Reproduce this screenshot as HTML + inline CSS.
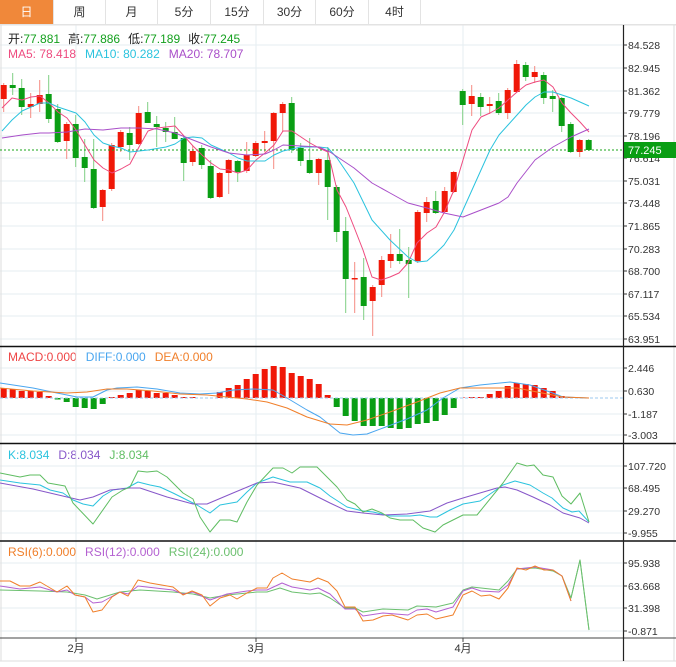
<!DOCTYPE html>
<html><head><meta charset="utf-8"><style>
html,body{margin:0;padding:0;background:#fff;width:676px;height:667px;overflow:hidden;font-family:"Liberation Sans","Noto Sans CJK SC",sans-serif}
.tabs{position:absolute;left:0;top:0;height:24px;width:676px;border-bottom:1px solid #e3e3e3}
.tab{position:absolute;top:0;height:24px;line-height:24px;text-align:center;font-size:12px;color:#333;border-right:1px solid #e3e3e3;box-sizing:border-box}
.on{background:#f0883a;color:#fff}
svg{position:absolute;left:0;top:0}
</style></head><body>
<div class="tabs">
<div class="tab on" style="left:0;width:54px">日</div>
<div class="tab" style="left:54px;width:52px">周</div>
<div class="tab" style="left:106px;width:52px">月</div>
<div class="tab" style="left:158px;width:53px">5分</div>
<div class="tab" style="left:211px;width:53px">15分</div>
<div class="tab" style="left:264px;width:52px">30分</div>
<div class="tab" style="left:316px;width:53px">60分</div>
<div class="tab" style="left:369px;width:52px">4时</div>
</div>
<svg id="s" width="676" height="667" xmlns="http://www.w3.org/2000/svg" font-family="Liberation Sans, Noto Sans CJK SC, sans-serif">
<g font-size="12">
<text x="8" y="43"><tspan fill="#222">开:</tspan><tspan fill="#14a01e">77.881</tspan><tspan fill="#222" dx="8">高:</tspan><tspan fill="#14a01e">77.886</tspan><tspan fill="#222" dx="8">低:</tspan><tspan fill="#14a01e">77.189</tspan><tspan fill="#222" dx="8">收:</tspan><tspan fill="#14a01e">77.245</tspan></text>
<text x="8" y="58"><tspan fill="#ee4b7f">MA5: 78.418</tspan><tspan fill="#2bc3de" dx="9">MA10: 80.282</tspan><tspan fill="#a94fc9" dx="9">MA20: 78.707</tspan></text>
<text x="8" y="361"><tspan fill="#ee4545">MACD:0.000</tspan><tspan fill="#4aa6ef" dx="9">DIFF:0.000</tspan><tspan fill="#f07f2a" dx="9">DEA:0.000</tspan></text>
<text x="8" y="459"><tspan fill="#2bc3de">K:8.034</tspan><tspan fill="#8757c9" dx="9">D:8.034</tspan><tspan fill="#5fbd62" dx="9">J:8.034</tspan></text>
<text x="8" y="556"><tspan fill="#f07f2a">RSI(6):0.000</tspan><tspan fill="#b461d1" dx="9">RSI(12):0.000</tspan><tspan fill="#6cc06f" dx="9">RSI(24):0.000</tspan></text>
</g>
<g id="g"></g>
</svg>
<script>
var g=document.getElementById('g'),NS='http://www.w3.org/2000/svg';
function el(t,a,txt){var e=document.createElementNS(NS,t);for(var k in a)e.setAttribute(k,a[k]);if(txt!=null)e.textContent=txt;g.appendChild(e);return e;}
function line(x1,y1,x2,y2,c,w,d){var a={x1:x1,y1:y1,x2:x2,y2:y2,stroke:c,'stroke-width':w||1};if(d)a['stroke-dasharray']=d;el('line',a);}
function pl(pts,c,w){el('polyline',{points:pts.map(function(p){return p.join(',')}).join(' '),fill:'none',stroke:c,'stroke-width':w||1,'stroke-linejoin':'round'});}
var GC='#e6edf2';
// grids main
var mt=[[45,'84.528'],[68,'82.945'],[91,'81.362'],[113,'79.779'],[136,'78.196'],[158,'76.614'],[181,'75.031'],[203,'73.448'],[226,'71.865'],[249,'70.283'],[271,'68.700'],[294,'67.117'],[316,'65.534'],[339,'63.951']];
mt.forEach(function(t){line(0,t[0],623,t[0],GC);});
var md=[[368,'2.446'],[391,'0.630'],[414,'-1.187'],[435,'-3.003']];
md.forEach(function(t){line(0,t[0],623,t[0],GC);});
var kd=[[466,'107.720'],[488,'68.495'],[511,'29.270'],[533,'-9.955']];
kd.forEach(function(t){line(0,t[0],623,t[0],GC);});
var rs=[[563,'95.938'],[586,'63.668'],[608,'31.398'],[631,'-0.871']];
rs.forEach(function(t){line(0,t[0],623,t[0],GC);});
[76,256,463].forEach(function(x){line(x,25,x,638,GC);});
// borders
line(0,25,676,25,'#e3e3e3');line(1,25,1,661,'#ddd');line(674,25,674,661,'#ddd');line(0,661,676,661,'#ddd');
line(0,346.5,676,346.5,'#111',1.5);line(0,443.5,676,443.5,'#111',1.5);line(0,541,676,541,'#111',1.5);line(0,638,676,638,'#444',1);
line(623.5,25,623.5,661,'#222',1.2);
function ticks(arr){arr.forEach(function(t){line(623,t[0],627,t[0],'#333');el('text',{x:628,y:t[0]+4,'font-size':'10.5',fill:'#333'},t[1]);});}
ticks(mt);ticks(md);ticks(kd);ticks(rs);
[[76,'2月'],[256,'3月'],[463,'4月']].forEach(function(m){line(m[0],638,m[0],642,'#444');el('text',{x:m[0],y:652,'font-size':'11','text-anchor':'middle',fill:'#333'},m[1]);});
// candles [wt,bt,bb,wb,up]
var C=[[83,85,99,112,1],[73,85,88,95,0],[79,88,107,115,0],[93,104,107,118,1],[80,95,104,112,1],[75,94,119,123,0],[104,109,142,143,0],[122,124,141,159,1],[115,124,158,167,0],[139,157,168,182,0],[139,169,208,209,0],[189,190,207,221,1],[143,145,189,191,1],[130,132,147,152,1],[127,133,145,160,0],[106,113,144,145,1],[102,112,123,123,0],[116,124,127,147,0],[122,128,132,142,0],[117,132,139,139,0],[136,138,163,181,0],[146,151,162,166,1],[145,148,165,169,0],[160,166,198,199,0],[172,173,197,198,1],[159,160,173,194,1],[160,161,172,182,0],[142,155,171,173,1],[141,143,156,157,1],[131,141,143,152,1],[112,113,141,169,1],[102,104,113,132,1],[97,103,150,153,0],[143,148,161,166,0],[138,160,173,174,0],[158,159,173,185,1],[147,160,187,220,0],[185,187,232,242,0],[217,231,279,313,0],[262,278,279.5,313,1],[258,277,306,320,0],[285,287,301,336,1],[256,260,285,297,1],[234,254,261,268,1],[229,254,261,264,0],[247,260,264,298,0],[210,212,261,263,1],[197,202,213,222,1],[191,201,213,214,0],[187,191,212,213,1],[171,172,192,193,1],[89,91,105,125,0],[85,96,104,116,1],[93,97,107,116,0],[97,104,106,114,1],[93,101,113,115,0],[88,90,113,119,1],[60,64,92,93,1],[62,65,77,81,0],[66,72,77,83,1],[72,75,98,104,0],[90,96,99,112,0],[97,98,126,132,0],[122,124,152,153,0],[139,140,152,157,1],[139,140,150,151,0]];
C.forEach(function(c,i){var x=3.7+9*i,col=c[4]?'#f01808':'#0a9e14',wc=c[4]?'#f58a82':'#7fcf84';
line(x,c[0],x,c[3],wc,1);el('rect',{x:x-3,y:c[1],width:6,height:Math.max(1,c[2]-c[1]),fill:col});});
// current price
line(0,150,623,150,'#1aa51a',1,'2,2');
el('rect',{x:624,y:142,width:52,height:16,fill:'#0a9e14'});
el('text',{x:628,y:154,'font-size':'11',fill:'#fff'},'77.245');
// MAs
pl([[2,108],[12,98],[22,100],[31,97],[40,96],[49,103],[58,112],[67,118],[76,130],[85,145],[94,160],[103,168],[112,173],[121,169],[130,164],[139,147],[148,131],[157,128],[166,127],[175,126],[184,136],[193,146],[202,155],[211,163],[220,169],[229,170],[238,173],[247,170],[256,160],[265,153],[274,145],[283,131],[292,131],[301,137],[310,143],[319,148],[328,152],[337,190],[346,207],[354,227],[363,250],[372,277],[381,280],[390,277],[399,273],[408,263],[417,243],[427,233],[436,227],[444,213],[454,190],[463,160],[472,130],[481,117],[490,113],[499,108],[508,100],[517,92],[526,85],[535,82],[544,80],[553,87],[562,103],[571,113],[580,122],[589,132]],'#ee4b7f');
pl([[2,131],[12,120],[22,111],[40,103],[49,103],[58,107],[76,113],[85,122],[94,135],[103,143],[112,146],[121,148],[130,152],[139,151],[148,150],[166,147],[175,144],[184,138],[193,137],[202,138],[211,145],[229,153],[238,158],[247,161],[265,161],[274,155],[283,151],[292,149],[301,147],[319,147],[328,148],[337,158],[354,183],[372,220],[390,240],[408,257],[417,262],[427,261],[436,253],[444,245],[454,230],[463,210],[472,190],[481,170],[490,150],[499,135],[508,125],[517,115],[526,105],[535,97],[544,92],[553,92],[562,95],[571,98],[589,106]],'#2bc3de');
pl([[2,138],[22,135],[40,133],[49,133],[67,132],[85,129],[103,130],[121,128],[139,128],[157,129],[175,133],[193,140],[211,147],[229,153],[247,155],[265,154],[274,150],[283,145],[301,146],[319,147],[330,152],[354,168],[372,183],[390,193],[408,203],[427,208],[444,213],[463,217],[481,210],[499,203],[508,197],[517,183],[535,160],[553,147],[571,137],[589,129]],'#a94fc9');
// MACD bars
var M=[388,389,391,391,392,396,399.5,402,407,408,409,404,397,395,393,390,391,393,393,395,397,397,398,398,392,388,385,379,374,369,366,367,373,376,379,384,395,407,416,421,426,426,426,428,429,428,424,423,421,415,408,397.5,397,397,394,391,386,383,384,385,388,391,396,397,398,398];
M.forEach(function(v,i){var x=3.7+9*i;if(v<398)el('rect',{x:x-3,y:v,width:6,height:398-v,fill:'#f01808'});else if(v>398)el('rect',{x:x-3,y:398,width:6,height:v-398,fill:'#0a9e14'});});
line(0,398,623,398,'#9cc9ef',1,'3,2');
pl([[0,383],[33,388],[57,393],[77,397],[93,397],[107,390],[117,388],[137,387],[157,389],[180,393],[200,394],[217,393],[233,390],[253,389],[273,390],[287,398],[307,410],[320,417],[330,425],[340,433],[353,435],[367,434],[383,428],[407,419],[427,410],[443,398],[460,388],[480,385],[510,382],[530,385],[550,392],[563,397],[589,398]],'#4aa6ef');
pl([[0,388],[33,391],[67,393],[87,392],[107,389],[127,389],[153,391],[180,394],[207,395],[227,397],[247,399],[267,402],[287,408],[307,417],[330,424],[347,425],[367,420],[390,412],[417,402],[440,393],[460,388],[490,388],[517,388],[537,392],[563,397],[589,398]],'#f07f2a');
// KDJ
pl([[0,480],[20,483],[40,485],[50,490],[63,493],[73,500],[83,504],[93,506],[103,496],[113,490],[127,488],[138,482],[150,485],[160,487],[173,493],[187,500],[197,505],[210,513],[220,505],[237,502],[247,492],[257,483],[273,477],[290,482],[307,482],[320,488],[330,496],[347,507],[363,511],[373,512],[390,516],[410,516],[420,515],[430,517],[437,517],[450,510],[463,504],[480,501],[493,492],[503,485],[515,481],[530,485],[543,493],[552,498],[563,508],[572,512],[579,511],[589,522]],'#2bc3de');
pl([[0,483],[33,489],[67,497],[80,500],[93,497],[110,490],[130,488],[140,488],[167,497],[193,504],[207,504],[233,493],[257,483],[273,482],[300,488],[320,498],[330,503],[347,511],[363,513],[383,515],[407,514],[430,511],[447,503],[463,498],[480,493],[497,488],[505,487],[517,490],[533,497],[550,505],[563,513],[580,518],[589,523]],'#8757c9');
pl([[0,473],[20,477],[30,475],[40,475],[48,483],[65,486],[73,503],[93,524],[112,497],[123,490],[130,487],[138,471],[147,472],[157,471],[167,477],[183,493],[193,499],[200,517],[210,532],[220,520],[230,520],[237,522],[247,502],[257,485],[273,468],[283,468],[292,473],[300,467],[317,467],[330,480],[337,487],[347,500],[355,504],[363,512],[372,509],[382,513],[390,518],[400,520],[413,520],[423,528],[435,532],[443,525],[463,515],[477,515],[503,483],[517,463],[527,466],[534,465],[543,475],[553,477],[562,496],[571,504],[580,493],[589,522]],'#5fbd62');
// RSI
pl([[0,590],[40,591],[67,592],[85,595],[97,599],[120,592],[140,590],[173,592],[193,594],[210,598],[227,595],[257,592],[267,592],[280,588],[292,592],[310,594],[320,593],[330,598],[345,608],[355,608],[363,612],[383,609],[408,610],[417,606],[436,607],[453,603],[463,590],[472,587],[499,590],[508,581],[517,569],[535,568],[553,571],[562,576],[571,598],[580,560],[589,630]],'#6cc06f');
pl([[0,586],[20,589],[40,587],[57,592],[67,590],[75,595],[85,597],[93,603],[102,602],[120,592],[128,594],[138,586],[173,590],[183,594],[193,592],[210,600],[227,594],[247,591],[257,590],[267,590],[282,583],[292,587],[310,590],[318,588],[330,594],[345,609],[355,609],[363,616],[383,613],[408,615],[417,610],[427,609],[436,612],[453,607],[463,591],[472,588],[481,591],[499,592],[508,585],[517,569],[535,567],[553,570],[562,576],[571,601]],'#b461d1');
pl([[0,581],[10,581],[20,586],[30,586],[40,582],[57,592],[67,586],[75,595],[85,597],[93,612],[102,610],[112,597],[120,592],[128,596],[138,580],[150,583],[173,587],[183,595],[192,591],[202,595],[210,606],[220,598],[230,595],[237,599],[247,593],[257,588],[267,588],[273,578],[282,573],[292,579],[310,582],[318,578],[328,582],[337,591],[345,607],[355,607],[363,621],[373,620],[383,616],[392,615],[408,620],[417,615],[427,614],[436,619],[453,615],[463,595],[472,591],[481,596],[490,595],[499,599],[508,588],[517,568],[526,570],[535,566],[544,570],[553,570],[562,576],[571,601]],'#f07f2a');
pl([[571,598],[580,560],[589,630]],'#6cc06f');
</script>
</body></html>
